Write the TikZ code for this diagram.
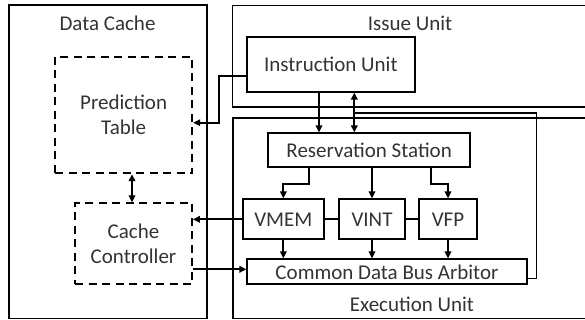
\documentclass[tikz,border=0pt]{standalone}
\usepackage{fontspec}
\setmainfont{Carlito}
\usetikzlibrary{arrows.meta,calc}
\begin{document}
\begin{tikzpicture}[x=1pt,y=-1pt,
  txt/.style={text=black!80, font=\fontsize{21}{25.5}\selectfont},
  box/.style={txt, draw=black, line width=1.8pt, rectangle, inner sep=0pt, align=center},
  dbox/.style={box, dash pattern=on 8pt off 5.5pt},
  lbl/.style={txt, inner sep=0pt},
  wire/.style={draw=black, line width=1.8pt},
  arr/.style={wire, -{Triangle[length=7pt,width=6.5pt]}},
  darr/.style={wire, {Triangle[length=7pt,width=6.5pt]}-{Triangle[length=7pt,width=6.5pt]}},
]
\useasboundingbox (0,0) rectangle (585,320);
\clip (0,0) rectangle (585,320);

% outer containers
\node[box, minimum width=198pt, minimum height=313.5pt] (dc) at (108,161.75) {};
\node[box, minimum width=367.5pt, minimum height=101.2pt] (iss) at (416.25,56.1) {};
\node[box, minimum width=367pt, minimum height=200.8pt] (exe) at (416.5,218.1) {};

\node[lbl] (dcl) at (107.5,23) {Data Cache};
\node[lbl] (issl) at (410,23) {Issue Unit};
\node[lbl] (exel) at (412,304) {Execution Unit};

% inner blocks
\node[box, minimum width=168.3pt, minimum height=55pt] (iu) at (330.85,64.2) {Instruction Unit};
\node[dbox, minimum width=137.3pt, minimum height=116.6pt] (pt) at (123.65,115) {Prediction\\Table};
\node[dbox, minimum width=117pt, minimum height=81pt] (cc) at (133.5,243.8) {Cache\\Controller};
\node[box, minimum width=201.7pt, minimum height=33.7pt] (rs) at (369.15,150.15) {Reservation Station};
\node[box, minimum width=81.3pt, minimum height=40pt] (vmem) at (283.35,219.3) {VMEM};
\node[box, minimum width=66pt, minimum height=40pt] (vint) at (372,219.3) {VINT};
\node[box, minimum width=57.4pt, minimum height=40pt] (vfp) at (448,219.3) {VFP};
\node[box, minimum width=279.4pt, minimum height=25pt] (cdb) at (387,271.8) {Common Data Bus Arbitor};

% helper coordinates
\coordinate (yiu) at (0,76);
\coordinate (xbend) at (219,0);
\coordinate (ypt) at (0,122.7);
\coordinate (xa) at (319,0);
\coordinate (xb) at (354.3,0);
\coordinate (yfb) at (0,112.7);
\coordinate (xfb) at (536.5,0);
\coordinate (ycdbout) at (0,278.5);
\coordinate (xr1) at (309,0);
\coordinate (xr3) at (430.7,0);
\coordinate (ysplit) at (0,184);
\coordinate (xpc) at (132,0);
\coordinate (ycc) at (0,269.3);

% connectors
\draw[arr] (iu.west |- yiu) -- (xbend |- yiu) -- (xbend |- ypt) -- (pt.east |- ypt);
\draw[arr] (iu.south -| xa) -- (rs.north -| xa);
\draw[darr] (iu.south -| xb) -- (rs.north -| xb);
\draw[wire] (cdb.east |- ycdbout) -- (xfb |- ycdbout) -- (xfb |- yfb) -- (xb |- yfb);

\draw[arr] (rs.south -| xr1) -- (xr1 |- ysplit) -- (vmem.north |- ysplit) -- (vmem.north);
\draw[arr] (rs.south -| vint.north) -- (vint.north);
\draw[arr] (rs.south -| xr3) -- (xr3 |- ysplit) -- (vfp.north |- ysplit) -- (vfp.north);

\draw[wire] (vmem.east) -- (vint.west);
\draw[wire] (vint.east) -- (vfp.west);

\draw[arr] (vmem.south) -- (cdb.north -| vmem.south);
\draw[arr] (vint.south) -- (cdb.north -| vint.south);
\draw[arr] (vfp.south) -- (cdb.north -| vfp.south);

\draw[arr] (vmem.west) -- (vmem.west -| cc.east);
\draw[arr] (cc.east |- ycc) -- (cdb.west |- ycc);
\draw[darr] (pt.south -| xpc) -- (cc.north -| xpc);
\end{tikzpicture}
\end{document}
